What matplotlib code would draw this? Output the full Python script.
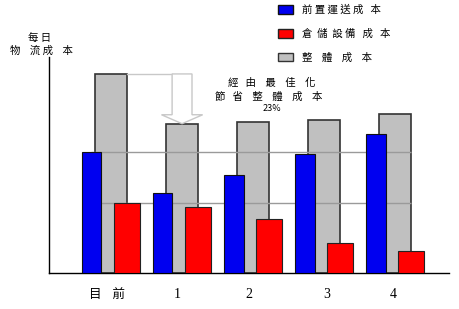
import matplotlib
matplotlib.use("Agg")
import matplotlib.pyplot as plt
import numpy as np
from matplotlib.patches import Polygon, Patch

plt.rcParams['font.family'] = ['Noto Sans CJK TC', 'DejaVu Sans']

# data (arbitrary units)
categories = ['目    前', '1', '2', '3', '4']
transport_cost = [61, 40, 49, 60, 70]     # 前置運送成本
storage_cost = [35, 33, 27, 15, 11]       # 倉儲設備成本
total_cost = [100, 75, 76, 77, 80]        # 整體成本
legend_labels = ['前 置 運 送 成   本', '倉  儲  設 備   成   本', '整    體    成    本']

x = np.arange(len(categories))

fig = plt.figure(figsize=(4.6, 3.09), dpi=100)
ax = fig.add_axes([0.1065, 0.1165, 0.87, 0.699])

# bars: gray total behind, blue and red overlapping in front
ax.bar(x, total_cost, width=0.45, color='#c0c0c0', edgecolor='#333333', linewidth=1.2, zorder=1)
ax.bar(x - 0.275, transport_cost, width=0.28, color='#0000f0', edgecolor='#111111', linewidth=0.8, zorder=3)
ax.bar(x + 0.225, storage_cost, width=0.37, color='#ff0000', edgecolor='#222222', linewidth=0.8, zorder=3)

# reference lines at the current levels
ax.hlines([transport_cost[0], storage_cost[0]], x[0] - 0.275, x[-1] + 0.225,
          color='#9a9a9a', linewidth=1.0, zorder=2)

# hollow arrow from current total down to scenario 1 total
top, bot = total_cost[0], total_cost[1]
cx = x[1]
head_h = 4.5
ax.plot([x[0] + 0.225, cx - 0.14], [top, top], color='#c8c8c8', linewidth=1.0, zorder=2)
arrow = Polygon([(cx - 0.14, top), (cx + 0.14, top), (cx + 0.14, bot + head_h),
                 (cx + 0.29, bot + head_h), (cx, bot), (cx - 0.29, bot + head_h),
                 (cx - 0.14, bot + head_h)],
                closed=True, facecolor='white', edgecolor='#c8c8c8', linewidth=1.0, zorder=2)
ax.add_patch(arrow)

ax.set_xlim(-0.873, 4.76)
ax.set_ylim(0, 108.5)

for s in ['top', 'right']:
    ax.spines[s].set_visible(False)
ax.spines['left'].set_linewidth(1.0)
ax.spines['bottom'].set_linewidth(1.0)

ax.set_yticks([])
ax.set_xticks(x + np.array([-0.05, -0.07, -0.06, 0.03, -0.03]))
ax.set_xticklabels(categories, fontsize=9)
for lab in ax.get_xticklabels()[1:]:
    lab.set_family('Liberation Serif')
    lab.set_fontsize(10)
ax.tick_params(axis='x', length=0, pad=11)

# annotation text
fig.text(0.59, 0.733, '經   由    最    佳    化', fontsize=7.5, ha='center', va='center')
fig.text(0.585, 0.688, '節   省    整    體    成    本', fontsize=7.5, ha='center', va='center')
fig.text(0.592, 0.648, '23%', fontsize=6.5, ha='center', va='center')

# y axis label
fig.text(0.085, 0.877, '每 日', fontsize=7.5, ha='center', va='center')
fig.text(0.089, 0.835, '物    流 成    本', fontsize=7.5, ha='center', va='center')

# legend
handles = [Patch(facecolor='#0000f0', edgecolor='#111111'),
           Patch(facecolor='#ff0000', edgecolor='#222222'),
           Patch(facecolor='#c0c0c0', edgecolor='#333333')]
fig.legend(handles, legend_labels, loc='upper left', bbox_to_anchor=(0.584, 1.015),
           frameon=False, fontsize=7.5, handlelength=1.4, handleheight=0.9,
           labelspacing=1.3, handletextpad=0.9)

fig.savefig('out.png', dpi=100)
